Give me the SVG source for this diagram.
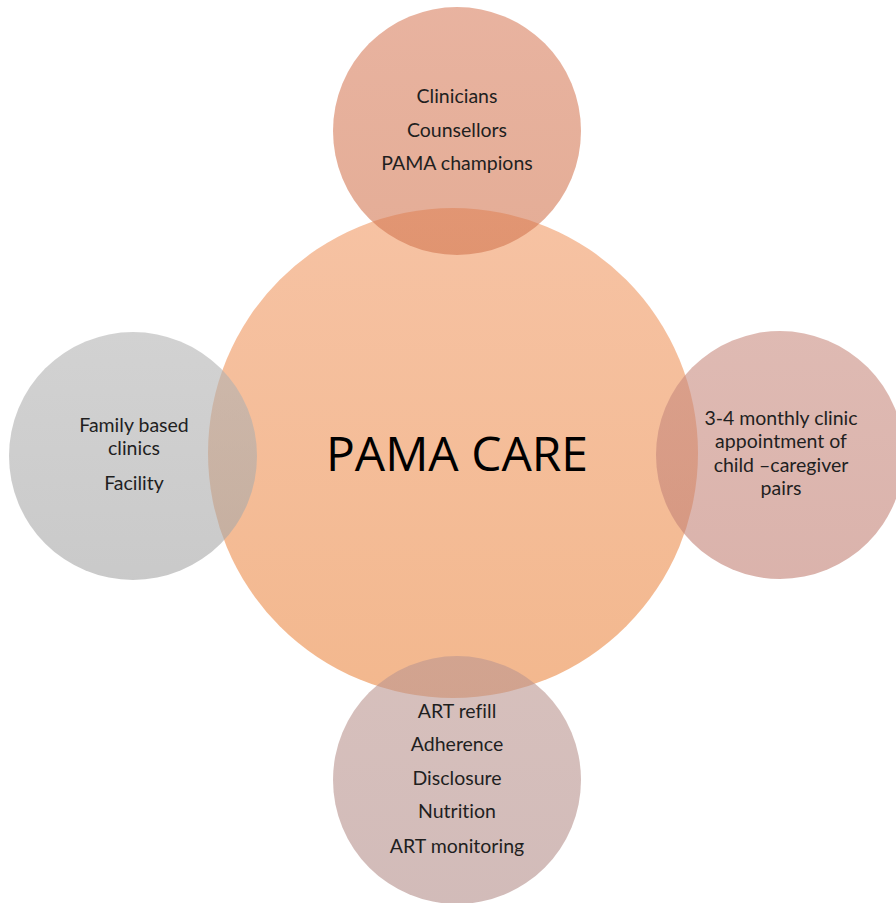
<svg xmlns="http://www.w3.org/2000/svg" width="896" height="903" viewBox="0 0 896 903">
<defs>
<linearGradient id="gC" x1="0" y1="0" x2="0" y2="1"><stop offset="0" stop-color="#f3ab80"/><stop offset="1" stop-color="#ee9c62"/></linearGradient>
<linearGradient id="gT" x1="0" y1="0" x2="0" y2="1"><stop offset="0" stop-color="#d98060"/><stop offset="1" stop-color="#d27650"/></linearGradient>
<linearGradient id="gL" x1="0" y1="0" x2="0" y2="1"><stop offset="0" stop-color="#b4b4b4"/><stop offset="1" stop-color="#a6a6a6"/></linearGradient>
<linearGradient id="gR" x1="0" y1="0" x2="0" y2="1"><stop offset="0" stop-color="#c98c80"/><stop offset="1" stop-color="#c28074"/></linearGradient>
<linearGradient id="gB" x1="0" y1="0" x2="0" y2="1"><stop offset="0" stop-color="#bc9690"/><stop offset="1" stop-color="#b48e8a"/></linearGradient>
</defs>
<style>
.c{fill-opacity:0.6}
.cc{fill-opacity:0.72}
text{font-family:Lato,"Open Sans","Liberation Sans",sans-serif;fill:#1f1f1f;text-anchor:middle;font-size:19.5px;font-variant-ligatures:none}
.big{font-family:"Open Sans","Liberation Sans",sans-serif;font-size:48px;fill:#000}
</style>
<rect width="896" height="903" fill="#fff"/>
<g id="center"><circle class="cc" cx="453" cy="453" r="245" fill="url(#gC)"/></g>
<g id="top"><circle class="c" cx="457" cy="131" r="124" fill="url(#gT)"/>
<text x="457" y="103">Clinicians</text><text x="457" y="137">Counsellors</text><text x="457" y="170">PAMA champions</text></g>
<g id="left"><circle class="c" cx="133" cy="456" r="124" fill="url(#gL)"/>
<text x="134" y="432">Family based</text><text x="134" y="455">clinics</text><text x="134" y="490">Facility</text></g>
<g id="right"><circle class="c" cx="780" cy="455" r="124" fill="url(#gR)"/>
<text x="781" y="425">3-4 monthly clinic</text><text x="781" y="448">appointment of</text><text x="781" y="472">child –caregiver</text><text x="781" y="495">pairs</text></g>
<g id="bottom"><circle class="c" cx="457" cy="780" r="124" fill="url(#gB)"/>
<text x="457" y="718">ART refill</text><text x="457" y="751">Adherence</text><text x="457" y="785">Disclosure</text><text x="457" y="818">Nutrition</text><text x="457" y="853">ART monitoring</text></g>
<g id="centerLabel"><text class="big" x="457" y="471">PAMA CARE</text></g>
<g id="connectors"/>
</svg>
